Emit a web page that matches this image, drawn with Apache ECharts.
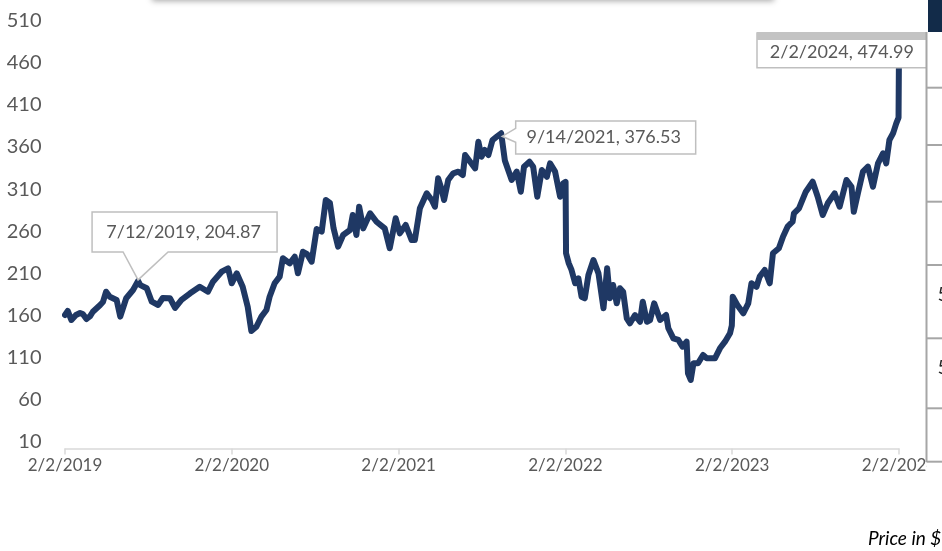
<!DOCTYPE html>
<html><head><meta charset="utf-8">
<script src="https://cdn.jsdelivr.net/npm/echarts@6/dist/echarts.min.js"></script>
<style>html,body{margin:0;padding:0;background:#fff;overflow:hidden}#c{width:942px;height:551px;}</style>
</head><body><div id="c"></div>
<script>
// ---- data ----
const dates = [
'2019-02-02','2019-02-08','2019-02-16','2019-02-26','2019-03-07','2019-03-13','2019-03-21','2019-03-29','2019-04-04','2019-04-20',
'2019-04-26','2019-05-03','2019-05-11','2019-05-26','2019-06-03','2019-06-16','2019-07-01','2019-07-12','2019-07-17','2019-07-31',
'2019-08-11','2019-08-25','2019-09-04','2019-09-20','2019-10-01','2019-10-15','2019-11-03','2019-11-24','2019-12-12','2019-12-23',
'2020-01-11','2020-01-25','2020-02-02','2020-02-13','2020-02-26','2020-03-08','2020-03-16','2020-03-27','2020-04-07','2020-04-18',
'2020-04-25','2020-05-06','2020-05-17','2020-05-24','2020-06-08','2020-06-19','2020-06-26','2020-07-07','2020-07-16','2020-07-26',
'2020-08-06','2020-08-17','2020-08-26','2020-09-04','2020-09-12','2020-09-22','2020-10-03','2020-10-18','2020-10-24','2020-11-01',
'2020-11-07','2020-11-16','2020-12-01','2020-12-15','2021-01-02','2021-01-13','2021-01-26','2021-02-04','2021-02-17','2021-03-02',
'2021-03-09','2021-03-20','2021-04-04','2021-04-15','2021-04-22','2021-04-29','2021-05-07','2021-05-12','2021-05-21','2021-06-01',
'2021-06-12','2021-06-22','2021-06-27','2021-07-08','2021-07-19','2021-07-26','2021-08-02','2021-08-09','2021-08-17','2021-08-26',
'2021-09-03','2021-09-14','2021-09-22','2021-10-07','2021-10-18','2021-10-27','2021-11-03','2021-11-15','2021-11-23','2021-12-02',
'2021-12-12','2021-12-23','2021-12-30','2022-01-10','2022-01-21','2022-01-28','2022-02-02','2022-02-03','2022-02-09','2022-02-15',
'2022-02-23','2022-03-02','2022-03-09','2022-03-16','2022-03-24','2022-04-04','2022-04-15','2022-04-26','2022-05-04','2022-05-10',
'2022-05-17','2022-05-25','2022-06-01','2022-06-08','2022-06-16','2022-06-23','2022-07-04','2022-07-15','2022-07-21','2022-07-30',
'2022-08-06','2022-08-15','2022-08-28','2022-09-10','2022-09-15','2022-09-26','2022-10-07','2022-10-16','2022-10-25','2022-10-28',
'2022-11-03','2022-11-09','2022-11-19','2022-11-30','2022-12-08','2022-12-26','2023-01-06','2023-01-17','2023-01-28','2023-02-01',
'2023-02-03','2023-02-13','2023-02-26','2023-03-09','2023-03-16','2023-03-27','2023-04-03','2023-04-14','2023-04-25','2023-05-02',
'2023-05-15','2023-05-24','2023-06-03','2023-06-14','2023-06-17','2023-06-28','2023-07-13','2023-07-28','2023-08-08','2023-08-19',
'2023-08-30','2023-09-14','2023-09-25','2023-10-10','2023-10-21','2023-10-26','2023-11-04','2023-11-15','2023-11-26','2023-12-07',
'2023-12-18','2023-12-29','2024-01-05','2024-01-12','2024-01-20','2024-01-27','2024-02-01','2024-02-02'
];
const prices = [
165.2,169.9,159.4,165.2,167.6,166.4,160.6,164.0,169.0,176.9,
180.3,192.3,186.5,182.7,163.3,184.7,194.3,204.87,200.0,196.3,
180.7,176.9,185.0,184.7,173.4,182.7,190.5,198.1,192.3,204.0,
215.6,219.5,202.1,213.7,198.1,174.9,146.6,151.6,163.3,171.0,
186.5,202.1,209.8,231.2,225.3,233.0,213.7,238.8,236.0,227.2,
265.2,262.1,299.0,295.5,266.0,244.7,258.3,264.1,281.5,258.3,
291.2,266.0,283.5,273.7,266.0,242.8,277.7,260.2,269.9,252.4,
252.4,289.3,306.7,299.0,291.2,324.2,310.6,299.0,322.2,330.0,
331.9,328.0,351.3,343.5,335.8,366.7,349.3,357.1,351.3,368.7,
372.0,376.53,345.0,322.2,331.9,308.6,337.7,343.5,337.7,302.8,
333.8,326.0,341.6,331.9,302.8,318.4,320.0,237.0,225.3,217.6,
202.1,207.9,186.5,184.7,211.7,229.2,213.7,173.0,219.5,184.7,
200.1,178.8,196.3,192.3,161.4,155.6,165.2,157.4,180.7,157.4,
159.4,178.8,159.4,165.2,149.8,138.1,136.2,128.4,134.2,97.4,
89.7,109.1,109.1,118.7,114.9,114.9,126.5,134.2,144.0,153.0,
186.5,176.9,167.2,178.8,202.1,198.1,209.8,217.6,202.1,237.0,
242.8,256.3,267.9,273.7,283.5,289.3,308.6,320.2,302.8,281.5,
295.1,306.7,291.2,322.2,314.4,285.3,306.7,331.9,337.7,314.4,
341.6,353.3,341.6,368.7,376.5,388.1,394.78,474.99
];
const xTickLabels = ['2/2/2019','2/2/2020','2/2/2021','2/2/2022','2/2/2023','2/2/2024'];
const yTickMin = 10, yTickMax = 510, yTickStep = 50;
const callouts = [
  {date:'2019-07-12', text:'7/12/2019, 204.87', value:204.87},
  {date:'2021-09-14', text:'9/14/2021, 376.53', value:376.53},
  {date:'2024-02-02', text:'2/2/2024, 474.99', value:474.99}
];
const footNote = 'Price in $';

// ---- build ----
const t0 = Date.UTC(2019,1,2), t1 = Date.UTC(2024,1,2);
function toX(s){ const p=s.split('-').map(Number); return 2019 + (Date.UTC(p[0],p[1]-1,p[2])-t0)/(t1-t0)*5; }
const seriesData = dates.map((d,i)=>[toX(d), prices[i]]);

const FONT = 'Lato';
const GRAY = '#595959';
const chart = echarts.init(document.getElementById('c'), null, {renderer:'canvas'});
chart.setOption({
  animation:false,
  backgroundColor:'#ffffff',
  grid:[
    {left:65, right:43, top:18.5, bottom:102.5, containLabel:false},
    {left:65, right:43, top:20.7, bottom:109.3, containLabel:false}
  ],
  xAxis:[
    {type:'value', gridIndex:0, min:2019, max:2024, interval:1,
     axisLine:{show:true, lineStyle:{color:'#D9D9D9', width:1.5}},
     axisTick:{show:true, length:6, lineStyle:{color:'#D9D9D9', width:1.5}},
     splitLine:{show:false},
     axisLabel:{color:GRAY, fontFamily:FONT, fontSize:17, margin:9,
       formatter:v=>xTickLabels[Math.round(v)-2019]||''}},
    {type:'value', gridIndex:1, min:2019, max:2024, show:false}
  ],
  yAxis:[
    {type:'value', gridIndex:0, min:yTickMin, max:yTickMax, interval:yTickStep,
     axisLine:{show:false}, axisTick:{show:false}, splitLine:{show:false}, axisLabel:{show:false}},
    {type:'value', gridIndex:1, min:yTickMin, max:yTickMax, interval:yTickStep,
     axisLine:{show:false}, axisTick:{show:false}, splitLine:{show:false},
     axisLabel:{color:GRAY, fontFamily:FONT, fontSize:20, margin:23.5}}
  ],
  series:[{
    type:'line', xAxisIndex:0, yAxisIndex:0, data:seriesData, showSymbol:false,
    lineStyle:{color:'#1F3864', width:6, join:'round', cap:'round'}, z:2
  }]
});

// callouts + page furniture
const g = [];
const P = callouts.map(c=>chart.convertToPixel({xAxisIndex:0,yAxisIndex:0},[toX(c.date), c.value]));
const border = {stroke:'#BFBFBF', lineWidth:1.5, fill:'#ffffff'};
// callout 1 (pointer down)
{ const [px,py]=P[0]; const L=px-46,R=px+139,T=py-69,B=py-29;
  g.push({type:'polygon', z:10, shape:{points:[[L,T],[R,T],[R,B],[px+30,B],[px,py-1],[px-15,B],[L,B]]}, style:border});
  g.push({type:'text', z:11, x:(L+R)/2-1, y:(T+B)/2, style:{text:callouts[0].text, fill:GRAY, font:'18px '+FONT, align:'center', verticalAlign:'middle'}});
}
// callout 2 (pointer left)
{ const [px,py]=P[1]; const L=px+14.5,R=px+194.5,T=py-12.3,B=py+20.7;
  g.push({type:'polygon', z:10, shape:{points:[[L,T],[R,T],[R,B],[L,B],[L,py+9],[px+1,py+3],[L,py-5]]}, style:border});
  g.push({type:'text', z:11, x:(L+R)/2-2, y:(T+B)/2, style:{text:callouts[1].text, fill:GRAY, font:'18px '+FONT, align:'center', verticalAlign:'middle'}});
}
// callout 3 (covering the line end)
{ const [px,py]=P[2]; const L=px-142,R=px+27.7,T=py-15.6,B=py+19.1;
  g.push({type:'rect', z:10, shape:{x:L,y:T,width:R-L,height:B-T}, style:border});
  g.push({type:'rect', z:11, shape:{x:L,y:T-1,width:R-L,height:8}, style:{fill:'#C3C3C3'}});
  g.push({type:'text', z:11, x:(L+R)/2, y:(T+B)/2+2, style:{text:callouts[2].text, fill:GRAY, font:'18px '+FONT, align:'center', verticalAlign:'middle'}});
}
// right-hand table fragment (its white body hides the chart edge)
g.push({type:'rect', z:20, shape:{x:926.5,y:32,width:20,height:480}, style:{fill:'#ffffff'}});
g.push({type:'rect', z:21, shape:{x:928,y:0,width:14,height:32}, style:{fill:'#122B49'}});
g.push({type:'line', z:21, shape:{x1:926.5,y1:32,x2:926.5,y2:462}, style:{stroke:'#A6A6A6', lineWidth:2}});
[87.7,145,201.7,265,338.3,408.3,461.7].forEach(y=>g.push({type:'line', z:21, shape:{x1:926.5,y1:y,x2:942,y2:y}, style:{stroke:'#A6A6A6', lineWidth:2}}));
[295,368].forEach(y=>g.push({type:'text', z:21, x:937.5, y:y, style:{text:'5', fill:'#262626', font:'20px '+FONT, verticalAlign:'middle'}}));
// shadow of the panel above
g.push({type:'rect', z:5, shape:{x:152,y:-30,width:622,height:30}, style:{fill:'#ffffff', shadowBlur:6, shadowColor:'rgba(0,0,0,0.35)', shadowOffsetY:1}});
// footnote
g.push({type:'text', z:21, x:868, y:539, style:{text:footNote, fill:'#000000', font:'italic 19px '+FONT, verticalAlign:'middle'}});
chart.setOption({graphic:g});
</script></body></html>
